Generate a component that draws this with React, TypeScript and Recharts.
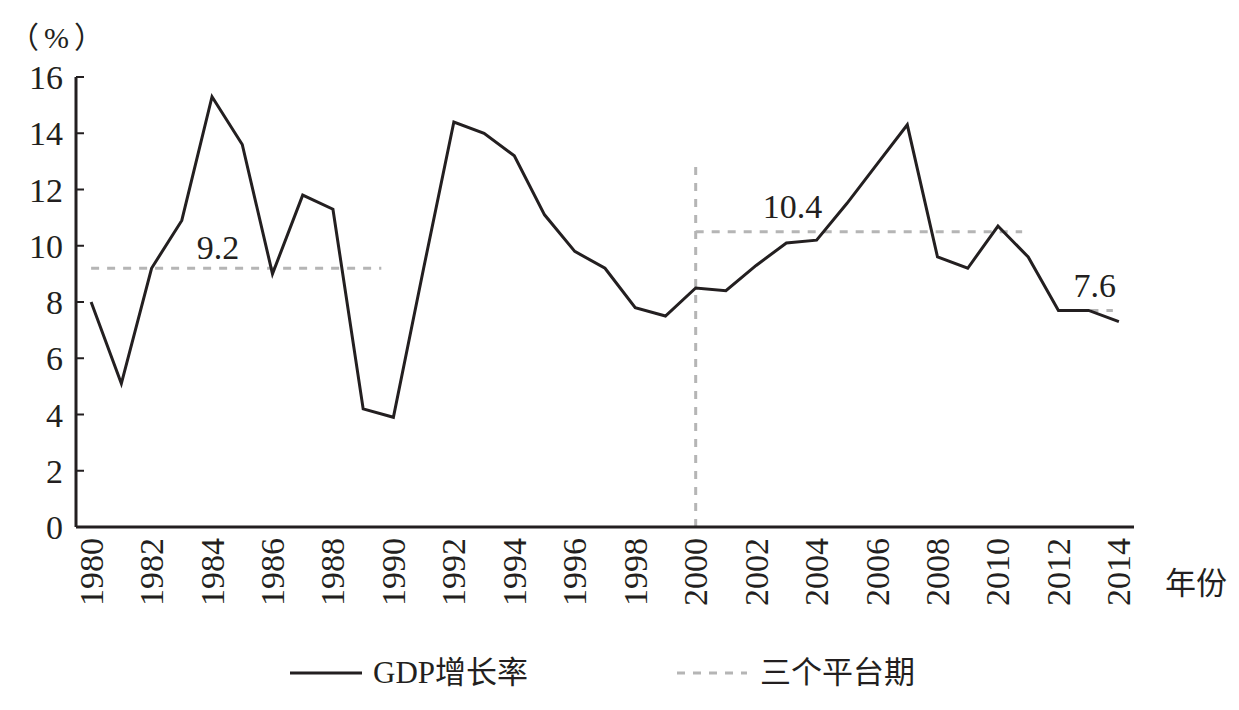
import React from 'react';
import { LineChart, Line, XAxis, YAxis, ReferenceLine, ReferenceDot, Legend } from 'recharts';

const years = [1980, 1981, 1982, 1983, 1984, 1985, 1986, 1987, 1988, 1989, 1990, 1991, 1992, 1993, 1994, 1995, 1996, 1997, 1998, 1999, 2000, 2001, 2002, 2003, 2004, 2005, 2006, 2007, 2008, 2009, 2010, 2011, 2012, 2013, 2014];
const gdpGrowth = [8.0, 5.1, 9.2, 10.9, 15.3, 13.6, 9.0, 11.8, 11.3, 4.2, 3.9, 9.2, 14.4, 14.0, 13.2, 11.1, 9.8, 9.2, 7.8, 7.5, 8.5, 8.4, 9.3, 10.1, 10.2, 11.5, 12.9, 14.3, 9.6, 9.2, 10.7, 9.6, 7.7, 7.7, 7.3];

const plateauLabels = ['9.2', '10.4', '7.6'];
const plateauLevels = [9.2, 10.5, 7.7];
const plateauStart = [1980, 2000, 2012];
const plateauEnd = [1989.6, 2010.8, 2013.8];
const plateauLabelX = [1984.2, 2003.2, 2013.2];
const plateauLabelOffset = [9, 14, 13];
const dividerYear = 2000;
const dividerTop = 12.8;

const yTicks = [0, 2, 4, 6, 8, 10, 12, 14, 16];
const labelYears = [1980, 1982, 1984, 1986, 1988, 1990, 1992, 1994, 1996, 1998, 2000, 2002, 2004, 2006, 2008, 2010, 2012, 2014];
const tickMarks = [...years.map((y) => y - 0.5), 2014.5];
const xDomain = [1979.5, 2014.5];

const seriesName = 'GDP增长率';
const plateauName = '三个平台期';
const xTitle = '年份';
const yTitle = '（%）';

const data = years.map((y, i) => ({ year: y, gdp: gdpGrowth[i] }));

const FONT = "'Liberation Serif', 'Noto Sans CJK SC', serif";
const INK = '#231f20';
const DASH = '#b5b5b5';

const YearTick = (props: any) => {
  const { x, y, payload } = props;
  return (
    <text
      x={x}
      y={y}
      transform={`rotate(-90 ${x} ${y})`}
      textAnchor="end"
      dominantBaseline="central"
      fontSize={34}
      fontFamily={FONT}
      fill={INK}
    >
      {payload.value}
    </text>
  );
};

const LegendContent = () => (
  <div style={{ position: 'relative', width: 1223, height: 40, fontFamily: FONT, color: INK }}>
    <svg style={{ position: 'absolute', left: 282, top: 15 }} width={72} height={10}>
      <line x1={0} y1={5} x2={72} y2={5} stroke={INK} strokeWidth={3} />
    </svg>
    <div style={{ position: 'absolute', left: 365, top: 0, fontSize: 31, lineHeight: '40px', whiteSpace: 'nowrap' }}>{seriesName}</div>
    <svg style={{ position: 'absolute', left: 669, top: 15 }} width={70} height={10}>
      <line x1={0} y1={5} x2={70} y2={5} stroke={DASH} strokeWidth={3} strokeDasharray="8 8" />
    </svg>
    <div style={{ position: 'absolute', left: 752, top: 0, fontSize: 31, lineHeight: '40px', whiteSpace: 'nowrap' }}>{plateauName}</div>
  </div>
);

export default function App() {
  return (
    <LineChart width={1223} height={700} data={data} margin={{ top: 69, right: 97, left: 0, bottom: 60 }}>
      <XAxis
        xAxisId="axisA"
        dataKey="year"
        type="number"
        domain={xDomain}
        ticks={tickMarks}
        tick={false}
        tickSize={-8}
        height={1}
        axisLine={{ stroke: INK, strokeWidth: 3 }}
        tickLine={{ stroke: INK, strokeWidth: 2 }}
        allowDataOverflow
      />
      <XAxis
        xAxisId="axisB"
        dataKey="year"
        type="number"
        domain={xDomain}
        ticks={labelYears}
        interval={0}
        axisLine={false}
        tickLine={false}
        tickSize={0}
        tickMargin={10}
        height={120}
        tick={<YearTick />}
        allowDataOverflow
        label={{
          content: (p: any) => {
            const vb = p.viewBox || {};
            return (
              <text
                x={vb.x + vb.width + 62}
                y={vb.y + 55}
                textAnchor="middle"
                dominantBaseline="central"
                fontSize={31}
                fontFamily={FONT}
                fill={INK}
              >
                {xTitle}
              </text>
            );
          },
        }}
      />
      <YAxis
        type="number"
        domain={[0, 16]}
        ticks={yTicks}
        interval={0}
        width={68}
        tickSize={-8}
        tickMargin={21}
        axisLine={{ stroke: INK, strokeWidth: 3 }}
        tickLine={{ stroke: INK, strokeWidth: 2 }}
        tick={{ fontSize: 34, fontFamily: FONT, fill: INK }}
        label={{
          content: (p: any) => {
            const vb = p.viewBox || {};
            return (
              <text
                x={vb.x + 1}
                y={vb.y - 40}
                textAnchor="start"
                dominantBaseline="central"
                fontSize={30}
                letterSpacing={5}
                fontFamily={FONT}
                fill={INK}
              >
                {yTitle}
              </text>
            );
          },
        }}
      />
      <ReferenceLine
        xAxisId="axisA"
        segment={[{ x: dividerYear, y: 0 }, { x: dividerYear, y: dividerTop }]}
        stroke={DASH}
        strokeWidth={3}
        strokeDasharray="8 8"
      />
      {plateauLevels.map((lv, i) => (
        <ReferenceLine
          key={'pl' + i}
          xAxisId="axisA"
          segment={[{ x: plateauStart[i], y: lv }, { x: plateauEnd[i], y: lv }]}
          stroke={DASH}
          strokeWidth={3}
          strokeDasharray="8 8"
        />
      ))}
      <Line
        xAxisId="axisA"
        type="linear"
        dataKey="gdp"
        stroke={INK}
        strokeWidth={3}
        dot={false}
        activeDot={false}
        isAnimationActive={false}
      />
      {plateauLevels.map((lv, i) => (
        <ReferenceDot
          key={'lb' + i}
          xAxisId="axisA"
          x={plateauLabelX[i]}
          y={lv}
          r={0}
          fill="none"
          stroke="none"
          label={{ value: plateauLabels[i], position: 'top', offset: plateauLabelOffset[i], fontSize: 34, fontFamily: FONT, fill: INK }}
        />
      ))}
      <Legend
        layout="horizontal"
        verticalAlign="middle"
        align="center"
        content={<LegendContent />}
        wrapperStyle={{ top: 645, left: 0, width: 1223, height: 40 }}
      />
    </LineChart>
  );
}
